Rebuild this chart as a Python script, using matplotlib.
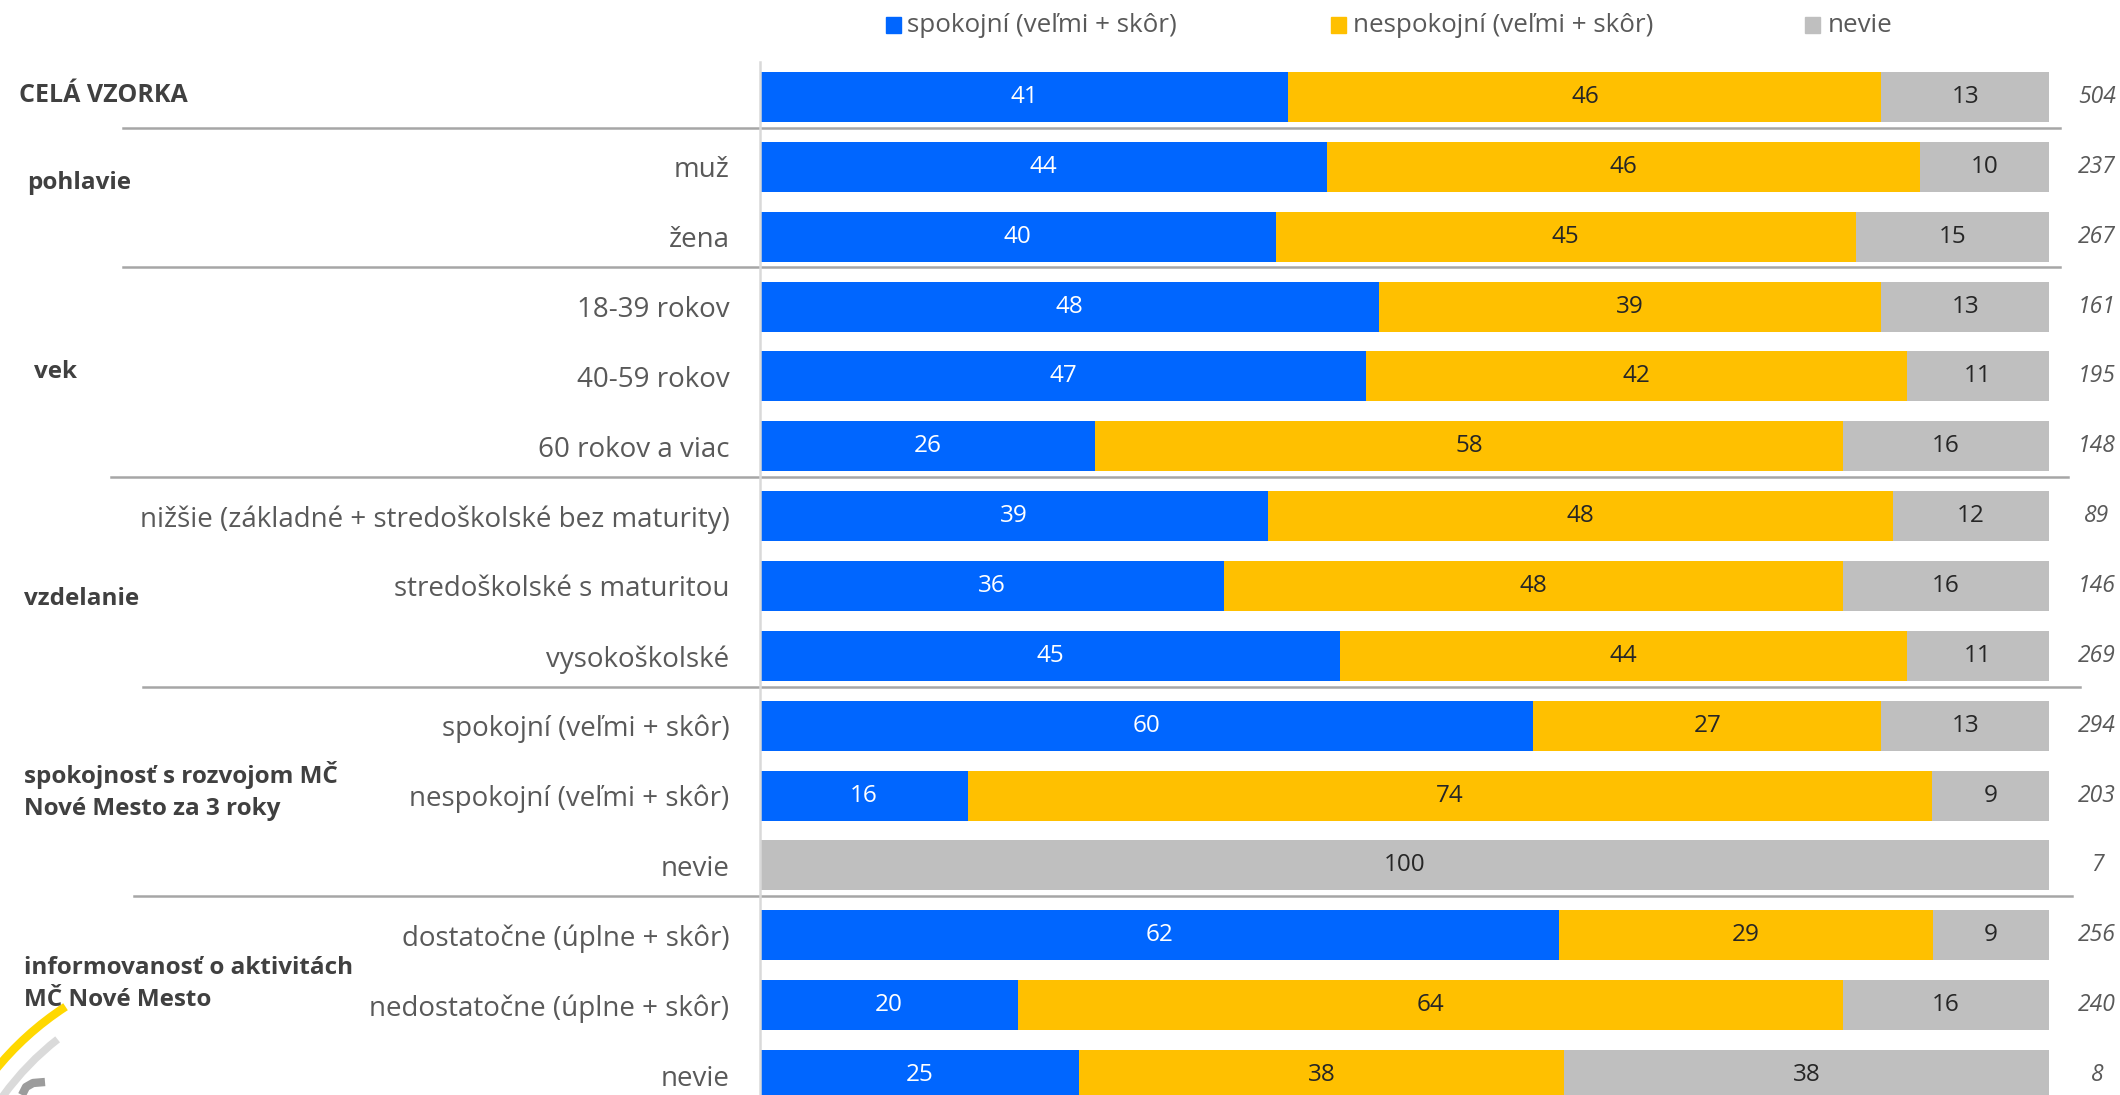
import matplotlib
matplotlib.use("Agg")
import matplotlib.pyplot as plt
from matplotlib.patches import Arc
import numpy as np

plt.rcParams['font.family'] = ['Open Sans', 'DejaVu Sans']

categories = ["", "muž", "žena", "18-39 rokov", "40-59 rokov", "60 rokov a viac",
              "nižšie (základné + stredoškolské bez maturity)", "stredoškolské s maturitou",
              "vysokoškolské", "spokojní (veľmi + skôr)", "nespokojní (veľmi + skôr)", "nevie",
              "dostatočne (úplne + skôr)", "nedostatočne (úplne + skôr)", "nevie"]
spokojni = [41, 44, 40, 48, 47, 26, 39, 36, 45, 60, 16, 0, 62, 20, 25]
nespokojni = [46, 46, 45, 39, 42, 58, 48, 48, 44, 27, 74, 0, 29, 64, 38]
nevie = [13, 10, 15, 13, 11, 16, 12, 16, 11, 13, 9, 100, 9, 16, 38]
n_sizes = [504, 237, 267, 161, 195, 148, 89, 146, 269, 294, 203, 7, 256, 240, 8]

groups = ["CELÁ VZORKA", "pohlavie", "vek", "vzdelanie",
          "spokojnosť s rozvojom MČ\nNové Mesto za 3 roky",
          "informovanosť o aktivitách\nMČ Nové Mesto"]
group_sizes = [1, 2, 3, 3, 3, 3]

series_names = ["spokojní (veľmi + skôr)", "nespokojní (veľmi + skôr)", "nevie"]
colors = ["#0066FF", "#FFC000", "#BFBFBF"]
text_colors = ["white", "#262626", "#262626"]

W, H = 2120, 1095
fig = plt.figure(figsize=(W / 100, H / 100), dpi=100)

# logo overlay
bg = fig.add_axes([0, 0, 1, 1], zorder=0)
bg.set_xlim(0, W)
bg.set_ylim(0, H)
bg.axis('off')
bg.add_patch(Arc((230, -165), 604, 604, theta1=123, theta2=160, color="#FFD800", lw=6))
bg.add_patch(Arc((230, -165), 560, 560, theta1=128, theta2=160, color="#DADADA", lw=5.5))
bg.plot([22, 26, 33, 45], [0, 8, 12, 13], color="#9C9C9C", lw=6, solid_capstyle='butt',
        solid_joinstyle='round')

ax = fig.add_axes([760 / W, (H - 1110) / H, 1289 / W, 1048 / H], zorder=2)
ax.patch.set_alpha(0)

data = np.array([spokojni, nespokojni, nevie], dtype=float)
totals = data.sum(axis=0)
pct = data / totals * 100
y = np.arange(len(categories))
left = np.zeros(len(categories))
bh = 0.716
for k in range(3):
    ax.barh(y, pct[k], left=left, height=bh, color=colors[k], label=series_names[k],
            edgecolor='none')
    for i in range(len(y)):
        v = data[k, i]
        if v > 0:
            ax.text(left[i] + pct[k, i] / 2, y[i], f"{int(v)}", ha='center', va='center',
                    color=text_colors[k], fontsize=17.5)
    left += pct[k]

ax.set_xlim(0, 100)
ax.set_ylim(len(categories) - 0.5, -0.5)
ax.set_yticks(y)
ax.set_yticklabels(categories, fontsize=20, color="#595959")
ax.tick_params(axis='y', length=0, pad=22)
ax.set_xticks([])
for s in ['top', 'right', 'bottom']:
    ax.spines[s].set_visible(False)
ax.spines['left'].set_color("#D9D9D9")
ax.spines['left'].set_linewidth(1.8)

# sample sizes
for i, n in enumerate(n_sizes):
    ax.text(1.0 + (2097 - 2049) / 1289, y[i], str(n), transform=ax.get_yaxis_transform(),
            ha='center', va='center', fontsize=16.5, style='italic', color="#595959")

# separators and group labels
trans = ax.get_yaxis_transform()
sep_x = [(123, 2060), (123, 2060), (111, 2068), (143, 2080), (134, 2072)]
bounds = np.cumsum(group_sizes)
for j, b in enumerate(bounds[:-1]):
    yb = b - 0.5 - 0.06
    x0, x1 = sep_x[j]
    ax.plot([(x0 - 760) / 1289, (x1 - 760) / 1289], [yb, yb], transform=trans,
            color="#A6A6A6", lw=1.8, clip_on=False)

group_xpx = [19, 27, 34, 24, 24, 24]
group_ypx = [95, 183, 372, 599, 791, 984]
group_fs = [18, 17.5, 17.5, 17.5, 17.5, 17.5]
for g, gx, gy, fs in zip(groups, group_xpx, group_ypx, group_fs):
    fig.text(gx / W, 1 - gy / H, g, ha='left', va='center', fontsize=fs,
             fontweight='bold', color="#404040", linespacing=1.45)

# legend
leg_items = [(886, 907), (1331, 1353), (1805, 1828)]
for (sx, tx), name, c in zip(leg_items, series_names, colors):
    fig.patches.append(plt.Rectangle((sx / W, 1 - 33 / H), 15 / W, 16 / H,
                                     transform=fig.transFigure, color=c, figure=fig))
    fig.text(tx / W, 1 - 26 / H, name, ha='left', va='center', fontsize=18.7,
             color="#595959")

fig.savefig("out.png", dpi=100)
